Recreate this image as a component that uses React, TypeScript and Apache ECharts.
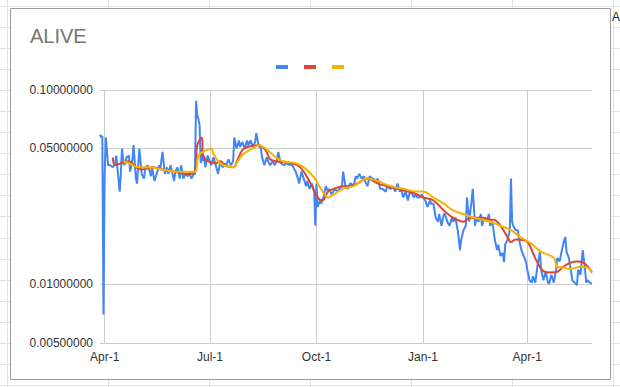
import React, { useEffect, useRef } from 'react';
import * as echarts from 'echarts';

const priceDates = [
  '2021-03-28','2021-03-29','2021-03-30','2021-03-31','2021-04-01','2021-04-02','2021-04-04','2021-04-06','2021-04-08','2021-04-10',
  '2021-04-11','2021-04-12','2021-04-14','2021-04-15','2021-04-16','2021-04-17','2021-04-18','2021-04-20','2021-04-22','2021-04-23',
  '2021-04-25','2021-04-26','2021-04-28','2021-04-29','2021-04-30','2021-05-01','2021-05-03','2021-05-05','2021-05-06','2021-05-08',
  '2021-05-10','2021-05-11','2021-05-12','2021-05-14','2021-05-16','2021-05-18','2021-05-19','2021-05-21','2021-05-23','2021-05-25',
  '2021-05-26','2021-05-28','2021-05-31','2021-06-01','2021-06-03','2021-06-05','2021-06-06','2021-06-08','2021-06-10','2021-06-12',
  '2021-06-13','2021-06-15','2021-06-17','2021-06-18','2021-06-19','2021-06-20','2021-06-21','2021-06-22','2021-06-23','2021-06-24',
  '2021-06-25','2021-06-26','2021-06-27','2021-06-29','2021-07-02','2021-07-04','2021-07-07','2021-07-08','2021-07-10','2021-07-12',
  '2021-07-14','2021-07-15','2021-07-17','2021-07-19','2021-07-21','2021-07-22','2021-07-24','2021-07-26','2021-07-27','2021-07-29',
  '2021-07-31','2021-08-02','2021-08-03','2021-08-05','2021-08-07','2021-08-09','2021-08-10','2021-08-12','2021-08-14','2021-08-15',
  '2021-08-17','2021-08-19','2021-08-21','2021-08-22','2021-08-24','2021-08-26','2021-08-28','2021-08-29','2021-08-31','2021-09-03',
  '2021-09-05','2021-09-08','2021-09-09','2021-09-11','2021-09-13','2021-09-15','2021-09-16','2021-09-18','2021-09-20','2021-09-22',
  '2021-09-23','2021-09-25','2021-09-27','2021-09-29','2021-09-30','2021-10-01','2021-10-02','2021-10-04','2021-10-05','2021-10-07',
  '2021-10-09','2021-10-11','2021-10-12','2021-10-14','2021-10-17','2021-10-19','2021-10-21','2021-10-23','2021-10-24','2021-10-26',
  '2021-10-28','2021-10-30','2021-10-31','2021-11-02','2021-11-04','2021-11-05','2021-11-07','2021-11-09','2021-11-11','2021-11-12',
  '2021-11-14','2021-11-16','2021-11-18','2021-11-19','2021-11-21','2021-11-23','2021-11-25','2021-11-27','2021-11-30','2021-12-01',
  '2021-12-04','2021-12-06','2021-12-08','2021-12-10','2021-12-12','2021-12-13','2021-12-15','2021-12-17','2021-12-19','2021-12-20',
  '2021-12-22','2021-12-24','2021-12-26','2021-12-27','2021-12-29','2021-12-31','2022-01-01','2022-01-03','2022-01-05','2022-01-07',
  '2022-01-08','2022-01-10','2022-01-12','2022-01-14','2022-01-15','2022-01-17','2022-01-19','2022-01-20','2022-01-22','2022-01-24',
  '2022-01-26','2022-01-27','2022-01-29','2022-01-31','2022-02-02','2022-02-03','2022-02-05','2022-02-07','2022-02-08','2022-02-10',
  '2022-02-12','2022-02-13','2022-02-15','2022-02-16','2022-02-18','2022-02-20','2022-02-21','2022-02-23','2022-02-25','2022-02-27',
  '2022-02-28','2022-03-02','2022-03-04','2022-03-06','2022-03-07','2022-03-09','2022-03-11','2022-03-12','2022-03-13','2022-03-15',
  '2022-03-17','2022-03-18','2022-03-19','2022-03-20','2022-03-22','2022-03-24','2022-03-25','2022-03-27','2022-03-29','2022-03-31',
  '2022-04-01','2022-04-03','2022-04-05','2022-04-06','2022-04-08','2022-04-10','2022-04-12','2022-04-13','2022-04-15','2022-04-17',
  '2022-04-19','2022-04-20','2022-04-22','2022-04-24','2022-04-26','2022-04-27','2022-04-29','2022-05-01','2022-05-03','2022-05-04',
  '2022-05-05','2022-05-07','2022-05-08','2022-05-10','2022-05-12','2022-05-14','2022-05-15','2022-05-17','2022-05-19','2022-05-21',
  '2022-05-22','2022-05-23','2022-05-25','2022-05-27'
];
const priceValues = [
  0.059,0.057,0.058,0.007,0.036,0.057,0.041,0.041,0.040,0.042,
  0.046,0.040,0.030,0.037,0.050,0.044,0.041,0.045,0.046,0.038,
  0.044,0.052,0.035,0.033,0.041,0.050,0.037,0.035,0.039,0.041,
  0.038,0.036,0.040,0.034,0.037,0.041,0.039,0.048,0.037,0.040,
  0.037,0.041,0.034,0.038,0.040,0.035,0.041,0.035,0.037,0.036,
  0.038,0.035,0.037,0.037,0.088,0.074,0.071,0.066,0.042,0.050,
  0.043,0.046,0.040,0.046,0.041,0.045,0.039,0.037,0.043,0.040,
  0.042,0.041,0.044,0.041,0.043,0.057,0.050,0.055,0.051,0.054,
  0.050,0.055,0.052,0.055,0.051,0.054,0.060,0.052,0.050,0.045,
  0.041,0.045,0.042,0.041,0.043,0.041,0.044,0.048,0.042,0.041,
  0.042,0.041,0.042,0.040,0.038,0.035,0.033,0.038,0.035,0.032,
  0.034,0.031,0.033,0.030,0.020,0.033,0.025,0.027,0.026,0.028,
  0.032,0.030,0.031,0.029,0.031,0.030,0.031,0.032,0.038,0.032,
  0.031,0.033,0.033,0.032,0.036,0.035,0.037,0.035,0.036,0.034,
  0.032,0.036,0.035,0.035,0.034,0.035,0.031,0.031,0.030,0.032,
  0.031,0.032,0.030,0.033,0.030,0.031,0.028,0.030,0.027,0.029,
  0.030,0.028,0.029,0.028,0.028,0.029,0.028,0.027,0.025,0.027,
  0.026,0.026,0.022,0.021,0.023,0.020,0.023,0.023,0.021,0.020,
  0.022,0.021,0.022,0.019,0.015,0.017,0.019,0.020,0.028,0.021,
  0.027,0.031,0.020,0.022,0.021,0.023,0.020,0.022,0.021,0.023,
  0.020,0.021,0.017,0.015,0.016,0.014,0.0145,0.013,0.016,0.017,
  0.019,0.035,0.021,0.020,0.019,0.019,0.017,0.015,0.014,0.013,
  0.012,0.0105,0.0102,0.011,0.0102,0.0126,0.0147,0.012,0.0105,0.0116,
  0.0102,0.0101,0.0112,0.0102,0.0119,0.0137,0.0131,0.015,0.0169,0.0175,
  0.0147,0.0137,0.0126,0.0105,0.0102,0.0099,0.0119,0.0112,0.015,0.0119,
  0.0102,0.0105,0.0102,0.0101
];

const fastDates = [
  '2021-04-08','2021-04-10','2021-04-15','2021-04-22','2021-04-28','2021-05-04','2021-05-12','2021-05-21','2021-06-01','2021-06-13',
  '2021-06-18','2021-06-20','2021-06-24','2021-06-25','2021-06-29','2021-07-06','2021-07-10','2021-07-14','2021-07-21','2021-07-25',
  '2021-07-29','2021-08-03','2021-08-12','2021-08-18','2021-08-22','2021-08-27','2021-09-09','2021-09-17','2021-09-26','2021-10-02',
  '2021-10-06','2021-10-11','2021-10-16','2021-10-24','2021-10-30','2021-11-05','2021-11-14','2021-11-23','2021-12-01','2021-12-10',
  '2021-12-19','2021-12-27','2022-01-01','2022-01-10','2022-01-19','2022-01-27','2022-02-05','2022-02-08','2022-02-11','2022-02-17',
  '2022-02-22','2022-02-28','2022-03-03','2022-03-09','2022-03-15','2022-03-18','2022-03-22','2022-03-29','2022-04-02','2022-04-06',
  '2022-04-10','2022-04-15','2022-04-21','2022-04-27','2022-05-02','2022-05-08','2022-05-14','2022-05-20','2022-05-24','2022-05-27'
];
const fastValues = [
  0.045,0.041,0.042,0.043,0.040,0.039,0.040,0.039,0.038,0.037,
  0.038,0.052,0.057,0.046,0.043,0.042,0.043,0.041,0.040,0.044,
  0.049,0.051,0.052,0.049,0.044,0.043,0.042,0.040,0.033,0.028,
  0.027,0.030,0.031,0.032,0.032,0.033,0.035,0.033,0.032,0.031,
  0.030,0.029,0.028,0.027,0.024,0.022,0.021,0.0215,0.022,0.022,
  0.022,0.0215,0.0215,0.020,0.0175,0.0165,0.017,0.0169,0.0163,0.0145,
  0.0129,0.0117,0.0115,0.0116,0.0123,0.0129,0.0131,0.0129,0.0122,0.0115
];

const slowDates = [
  '2021-04-17','2021-04-22','2021-04-30','2021-05-09','2021-05-21','2021-06-01','2021-06-10','2021-06-18','2021-06-21','2021-06-25',
  '2021-07-02','2021-07-04','2021-07-08','2021-07-13','2021-07-21','2021-07-25','2021-07-30','2021-08-07','2021-08-12','2021-08-18',
  '2021-08-27','2021-09-02','2021-09-13','2021-09-20','2021-09-28','2021-10-05','2021-10-11','2021-10-16','2021-10-24','2021-11-02',
  '2021-11-14','2021-11-23','2021-12-04','2021-12-15','2021-12-27','2022-01-01','2022-01-10','2022-01-19','2022-01-27','2022-02-05',
  '2022-02-14','2022-02-22','2022-02-28','2022-03-09','2022-03-18','2022-03-26','2022-04-04','2022-04-13','2022-04-24','2022-04-27',
  '2022-05-02','2022-05-08','2022-05-17','2022-05-23','2022-05-27'
];
const slowValues = [
  0.043,0.042,0.040,0.040,0.039,0.038,0.038,0.038,0.046,0.048,
  0.050,0.047,0.043,0.041,0.040,0.043,0.047,0.050,0.052,0.050,
  0.045,0.043,0.042,0.040,0.036,0.031,0.028,0.029,0.031,0.032,
  0.035,0.034,0.032,0.031,0.030,0.030,0.028,0.026,0.024,0.023,
  0.022,0.0215,0.021,0.020,0.019,0.0175,0.0163,0.0147,0.0137,0.0123,
  0.0122,0.0120,0.0123,0.0122,0.0116
];

const yTicks = [0.005, 0.01, 0.05, 0.1];
const xTicks = ['2021-04-01', '2021-07-01', '2021-10-01', '2022-01-01', '2022-04-01'];
const xStart = '2021-03-28';
const xEnd = '2022-05-27';
const monthNames = ['Jan','Feb','Mar','Apr','May','Jun','Jul','Aug','Sep','Oct','Nov','Dec'];
const seriesNames = ['Price', 'Fast', 'Slow'];

const FONT = '"Liberation Sans", Arial, sans-serif';
const ts = (s: string) => Date.parse(s + 'T00:00:00Z');
const pairs = (d: string[], v: number[]) => d.map((s, i) => [ts(s), v[i]]);

export default function App() {
  const ref = useRef<HTMLDivElement>(null);
  useEffect(() => {
    if (!ref.current) return;
    const chart = echarts.init(ref.current, null, { renderer: 'svg' });

    const sheetEls: any[] = [];
    const cols = [7.5, 108.5, 209.5, 310.5, 411.5, 512.5, 613.5];
    cols.forEach((x) => sheetEls.push({ type: 'line', z: -2, silent: true, shape: { x1: x, y1: 0, x2: x, y2: 387 }, style: { stroke: '#e2e2e2', lineWidth: 1 } }));
    for (let y = 5.5; y < 387; y += 21.1) {
      const yy = Math.round(y) + 0.5;
      sheetEls.push({ type: 'line', z: -2, silent: true, shape: { x1: 0, y1: yy, x2: 620, y2: yy }, style: { stroke: '#e2e2e2', lineWidth: 1 } });
    }
    sheetEls.push({ type: 'rect', z: -1, silent: true, shape: { x: 10.5, y: 8.5, width: 600, height: 371 }, style: { fill: '#ffffff', stroke: '#9a9a9a', lineWidth: 1 } });
    sheetEls.push({ type: 'text', z: -1, silent: true, x: 612, y: 11, style: { text: 'A', fill: '#222', font: '12px ' + FONT } });

    const option: any = {
      animation: false,
      backgroundColor: '#ffffff',
      textStyle: { fontFamily: FONT },
      title: {
        text: 'ALIVE', left: 25, top: 21,
        textStyle: { fontFamily: FONT, fontSize: 20, fontWeight: 'normal', color: '#757575' }
      },
      legend: {
        data: seriesNames, left: 271, top: 60, icon: 'rect', itemWidth: 12, itemHeight: 4, itemGap: 11,
        formatter: () => '', textStyle: { fontSize: 4, lineHeight: 4 }, selectedMode: false
      },
      graphic: { elements: sheetEls },
      grid: { left: 100, right: 28, top: 90, bottom: 44, containLabel: false },
      xAxis: {
        type: 'value', min: ts(xStart), max: ts(xEnd),
        axisLine: { show: false },
        axisTick: { show: false, customValues: xTicks.map(ts) },
        axisLabel: {
          customValues: xTicks.map(ts), color: '#333', fontSize: 12, margin: 8, fontFamily: FONT,
          formatter: (v: number) => { const d = new Date(v); return monthNames[d.getUTCMonth()] + '-' + d.getUTCDate(); }
        },
        splitLine: { show: true, lineStyle: { color: '#cccccc', width: 1 } }
      },
      yAxis: {
        type: 'log', logBase: 10, min: 0.00499, max: 0.1,
        axisLine: { show: false }, axisTick: { show: false }, axisLabel: { show: false }, splitLine: { show: false }
      },
      series: [
        { name: seriesNames[0], type: 'line', data: pairs(priceDates, priceValues), symbol: 'none', showSymbol: false,
          lineStyle: { color: '#4285f4', width: 2 }, itemStyle: { color: '#4285f4' }, z: 3 },
        { name: seriesNames[1], type: 'line', data: pairs(fastDates, fastValues), symbol: 'none', showSymbol: false, smooth: 0.4,
          lineStyle: { color: '#db4437', width: 2 }, itemStyle: { color: '#db4437' }, z: 4 },
        { name: seriesNames[2], type: 'line', data: pairs(slowDates, slowValues), symbol: 'none', showSymbol: false, smooth: 0.4,
          lineStyle: { color: '#f4b400', width: 2 }, itemStyle: { color: '#f4b400' }, z: 5 },
        { name: 'ticks', type: 'line', data: [], clip: false, silent: true, z: 1,
          markLine: {
            silent: true, symbol: ['none', 'none'], z: 1, animation: false, precision: 10,
            lineStyle: { color: '#cccccc', type: 'solid', width: 1 },
            label: { show: true, position: 'start', distance: 7, color: '#333', fontSize: 12, fontFamily: FONT,
              formatter: (p: any) => Number(p.value).toFixed(8) },
            emphasis: { disabled: true },
            data: yTicks.map((v) => ({ yAxis: v }))
          }
        }
      ]
    };
    chart.setOption(option);
    return () => chart.dispose();
  }, []);
  return <div ref={ref} style={{ position: 'absolute', left: 0, top: 0, width: 620, height: 387 }} />;
}
